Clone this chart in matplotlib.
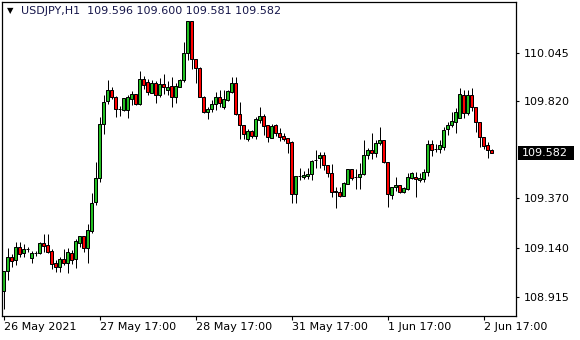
import matplotlib
matplotlib.use("Agg")
import matplotlib.pyplot as plt
import numpy as np
from matplotlib.patches import Rectangle
from matplotlib.transforms import blended_transform_factory

# USDJPY H1 candles, 26 May 2021 17:00 .. 2 Jun 2021 19:00
opens = [108.941, 109.035, 109.099, 109.085, 109.145, 109.119, 109.136, 109.093, 109.116, 109.116,
         109.162, 109.154, 109.125, 109.071, 109.051, 109.088, 109.069, 109.117, 109.088, 109.165,
         109.196, 109.139, 109.219, 109.352, 109.463, 109.713, 109.821, 109.872, 109.842, 109.783,
         109.778, 109.779, 109.829, 109.852, 109.806, 109.922, 109.907, 109.860, 109.903, 109.847,
         109.900, 109.872, 109.891, 109.841, 109.887, 109.918, 110.042, 110.192, 110.014, 109.973,
         109.841, 109.772, 109.783, 109.806, 109.838, 109.792, 109.826, 109.864, 109.906, 109.760,
         109.710, 109.644, 109.680, 109.660, 109.733, 109.752, 109.710, 109.651, 109.710, 109.672,
         109.659, 109.648, 109.633, 109.389, 109.474, 109.471, 109.474, 109.482, 109.546, 109.556,
         109.571, 109.525, 109.486, 109.403, 109.401, 109.383, 109.437, 109.506, 109.468, 109.468,
         109.482, 109.571, 109.594, 109.579, 109.625, 109.641, 109.537, 109.386, 109.424, 109.431,
         109.401, 109.414, 109.466, 109.471, 109.455, 109.461, 109.491, 109.622, 109.599, 109.600,
         109.609, 109.690, 109.709, 109.725, 109.744, 109.849, 109.764, 109.849, 109.792, 109.723,
         109.653, 109.617, 109.596]
highs = [109.035, 109.140, 109.113, 109.168, 109.167, 109.159, 109.146, 109.126, 109.125, 109.167,
         109.204, 109.204, 109.136, 109.085, 109.097, 109.136, 109.139, 109.131, 109.181, 109.197,
         109.197, 109.251, 109.394, 109.540, 109.746, 109.849, 109.918, 109.884, 109.844, 109.798,
         109.835, 109.849, 109.868, 109.854, 109.960, 109.935, 109.921, 109.917, 109.914, 109.926,
         109.945, 109.914, 109.934, 109.906, 109.923, 110.096, 110.193, 110.193, 110.014, 109.977,
         109.844, 109.795, 109.826, 109.864, 109.872, 109.872, 109.872, 109.934, 109.934, 109.818,
         109.712, 109.690, 109.687, 109.748, 109.792, 109.761, 109.712, 109.713, 109.713, 109.695,
         109.674, 109.650, 109.636, 109.476, 109.509, 109.497, 109.509, 109.548, 109.594, 109.586,
         109.586, 109.527, 109.529, 109.424, 109.421, 109.447, 109.508, 109.508, 109.506, 109.535,
         109.641, 109.605, 109.674, 109.641, 109.699, 109.642, 109.538, 109.425, 109.468, 109.432,
         109.424, 109.486, 109.491, 109.491, 109.486, 109.505, 109.641, 109.641, 109.621, 109.641,
         109.702, 109.725, 109.769, 109.787, 109.880, 109.872, 109.872, 109.880, 109.793, 109.724,
         109.654, 109.633, 109.600]
lows = [108.858, 108.992, 109.052, 109.062, 109.097, 109.100, 109.120, 109.072, 109.105, 109.113,
        109.120, 109.116, 109.042, 109.030, 109.030, 109.062, 109.026, 109.065, 109.046, 109.146,
        109.123, 109.072, 109.208, 109.339, 109.447, 109.667, 109.807, 109.830, 109.748, 109.752,
        109.776, 109.741, 109.805, 109.803, 109.803, 109.877, 109.847, 109.857, 109.811, 109.840,
        109.854, 109.849, 109.792, 109.813, 109.885, 109.911, 110.011, 109.968, 109.906, 109.838,
        109.764, 109.736, 109.772, 109.779, 109.795, 109.783, 109.823, 109.857, 109.758, 109.644,
        109.644, 109.637, 109.650, 109.644, 109.718, 109.664, 109.633, 109.648, 109.659, 109.637,
        109.637, 109.582, 109.350, 109.350, 109.455, 109.458, 109.458, 109.455, 109.509, 109.509,
        109.502, 109.471, 109.375, 109.324, 109.378, 109.381, 109.435, 109.455, 109.412, 109.412,
        109.480, 109.553, 109.551, 109.563, 109.617, 109.535, 109.332, 109.366, 109.404, 109.394,
        109.394, 109.409, 109.461, 109.375, 109.447, 109.447, 109.475, 109.566, 109.586, 109.579,
        109.594, 109.664, 109.702, 109.674, 109.741, 109.741, 109.756, 109.776, 109.679, 109.609,
        109.599, 109.556, 109.581]
closes = [109.033, 109.099, 109.082, 109.145, 109.114, 109.134, 109.137, 109.117, 109.117, 109.162,
          109.151, 109.123, 109.065, 109.051, 109.088, 109.069, 109.120, 109.086, 109.173, 109.196,
          109.139, 109.222, 109.347, 109.463, 109.715, 109.815, 109.872, 109.842, 109.783, 109.784,
          109.834, 109.840, 109.852, 109.806, 109.922, 109.895, 109.861, 109.903, 109.849, 109.900,
          109.886, 109.887, 109.841, 109.891, 109.918, 110.042, 110.192, 110.014, 109.973, 109.841,
          109.772, 109.783, 109.806, 109.841, 109.813, 109.830, 109.868, 109.906, 109.760, 109.710,
          109.667, 109.684, 109.661, 109.736, 109.752, 109.707, 109.653, 109.705, 109.672, 109.656,
          109.645, 109.628, 109.389, 109.474, 109.475, 109.478, 109.483, 109.543, 109.548, 109.571,
          109.525, 109.486, 109.401, 109.401, 109.383, 109.440, 109.506, 109.463, 109.469, 109.483,
          109.571, 109.594, 109.579, 109.625, 109.641, 109.537, 109.389, 109.424, 109.431, 109.401,
          109.417, 109.468, 109.486, 109.458, 109.466, 109.491, 109.622, 109.594, 109.600, 109.617,
          109.687, 109.710, 109.729, 109.769, 109.854, 109.764, 109.849, 109.792, 109.723, 109.653,
          109.614, 109.594, 109.582]

price_ticks = [110.045, 109.820, 109.370, 109.140, 108.915]
time_tick_bars = [0, 24, 48, 72, 96, 120]
time_tick_labels = ["26 May 2021", "27 May 17:00", "28 May 17:00",
                    "31 May 17:00", "1 Jun 17:00", "2 Jun 17:00"]
header = "USDJPY,H1  109.596 109.600 109.581 109.582"

W, H = 580, 340
fig = plt.figure(figsize=(W / 100, H / 100), dpi=100)
fig.patch.set_facecolor("white")
ax = fig.add_axes([2 / W, 24 / H, 514 / W, 314 / H])

ymin, ymax = 108.825, 110.280
ax.set_xlim(-0.375, 128.125)
ax.set_ylim(ymin, ymax)
px = (ymax - ymin) / 314  # one pixel in price units

x = np.arange(len(opens))
bull, bear = "#22c022", "#ff0000"

# draw each candle: wick behind, body filled with black outline
for i in x:
    o, h, l, c = opens[i], highs[i], lows[i], closes[i]
    lo, hi = min(o, c), max(o, c)
    ax.plot([i, i], [l, h], color="black", linewidth=0.72, zorder=1,
            solid_capstyle="butt")
    ax.add_patch(Rectangle((i - 0.3, lo), 0.6, max(hi - lo, 0.2 * px),
                           facecolor=bull if c >= o else bear,
                           edgecolor="black", linewidth=0.72, zorder=2))

for s in ax.spines.values():
    s.set_linewidth(0.9)
    s.set_color("black")

ax.yaxis.tick_right()
ax.set_yticks(price_ticks)
ax.set_yticklabels([f"{p:.3f}" for p in price_ticks])
ax.tick_params(axis="y", direction="out", length=2.5, width=0.8, pad=3,
               labelsize=8, colors="black")

ax.set_xticks(time_tick_bars)
ax.set_xticklabels(time_tick_labels, ha="left")
ax.tick_params(axis="x", direction="out", length=3, width=0.8, pad=1.5,
               labelsize=8, colors="black")

# current price marker
last = closes[-1]
tr = blended_transform_factory(ax.transAxes, ax.transData)
ax.add_patch(Rectangle((1.003, last - 7 * px), 0.109, 14 * px, transform=tr,
                       facecolor="black", edgecolor="none", clip_on=False, zorder=5))
ax.text(1.057, last, f"{last:.3f}", transform=tr, color="white", fontsize=8,
        ha="center", va="center", zorder=6, clip_on=False)

# header
fig.text(7 / W, 1 - 11 / H, "\u25bc", fontsize=6, color="black", va="center", ha="left")
fig.text(21 / W, 1 - 11 / H, header, fontsize=8, color="#15154a", va="center", ha="left")

fig.savefig("out.png", dpi=100)
